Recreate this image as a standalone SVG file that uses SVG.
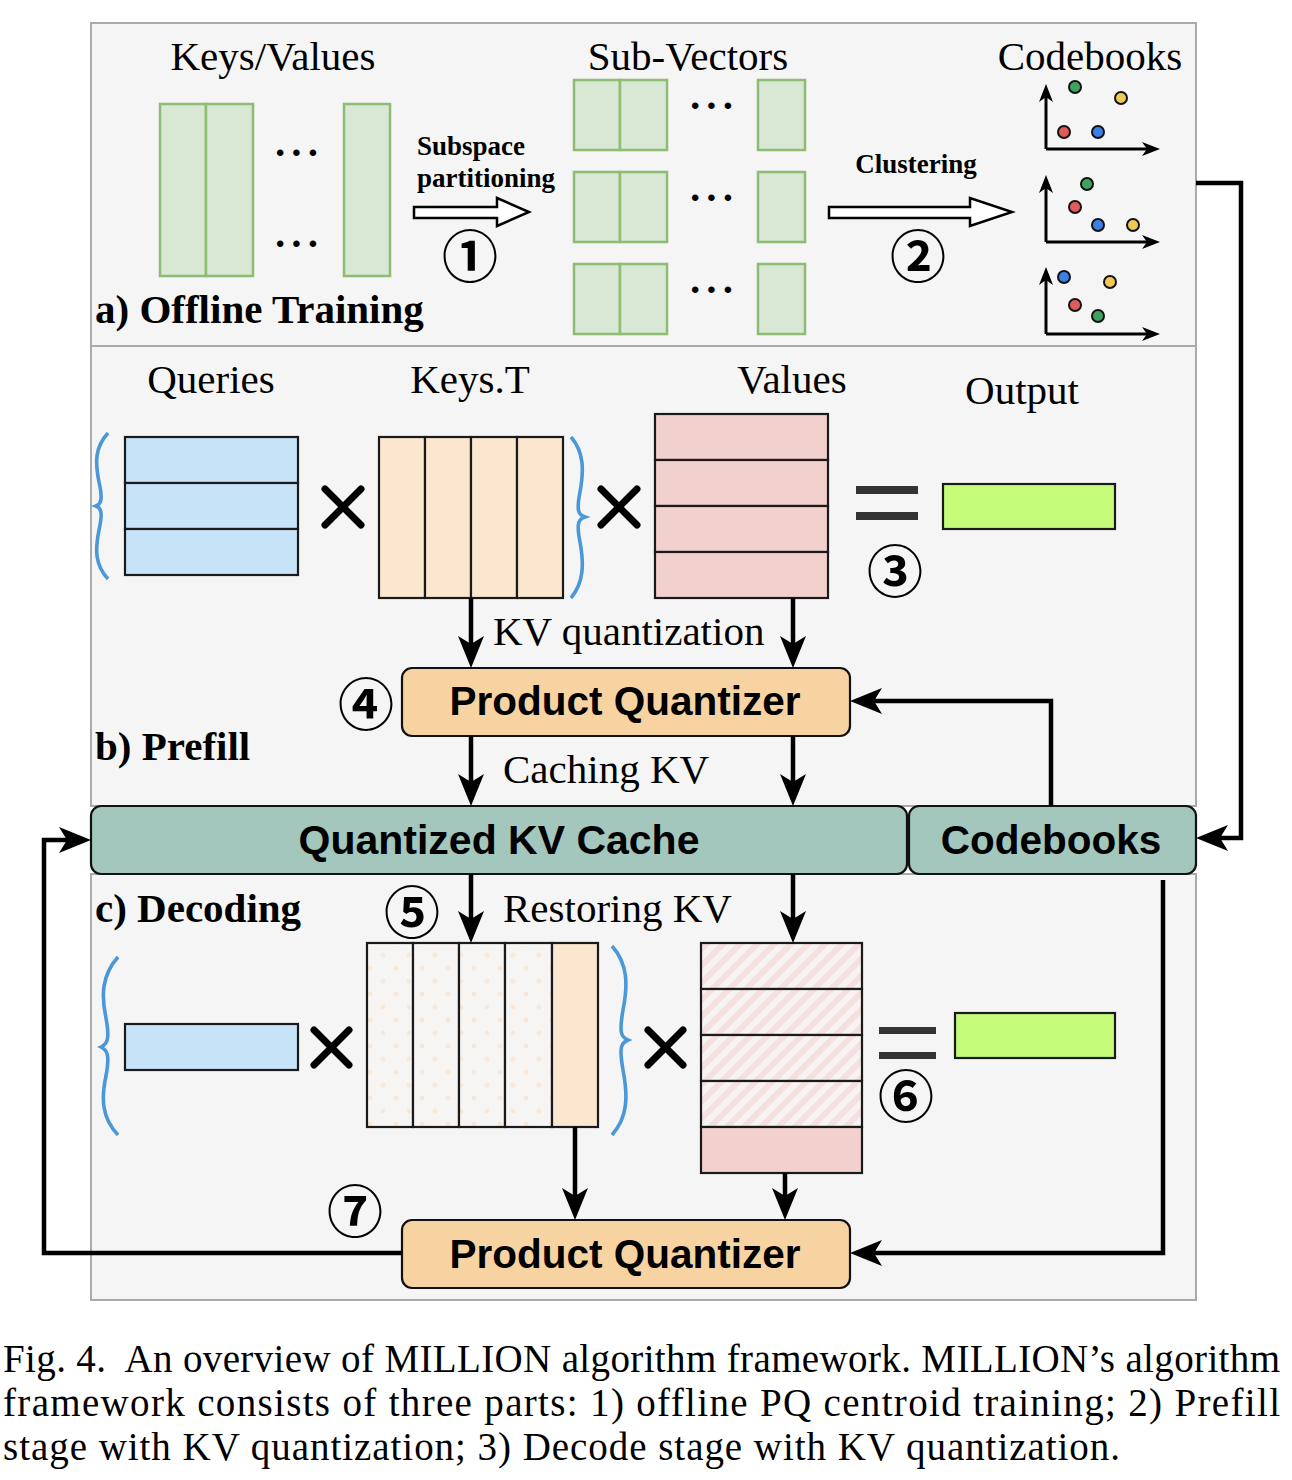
<svg xmlns="http://www.w3.org/2000/svg" width="1292" height="1480" viewBox="0 0 1292 1480">
<style>
.panel{fill:#f5f5f5;stroke:#aaaaaa;stroke-width:2}
.grn{fill:#d9e8d5;stroke:#8dbd72;stroke-width:2.5}
.cell{stroke:#1a1a1a;stroke-width:2.2}
.q{fill:#c7e3f8}
.k{fill:#fbe7d0}
.v{fill:#f2d0ce}
.out{fill:#c4fc7a;stroke:#1a1a1a;stroke-width:2.2}
.pq{fill:#f8d3a2;stroke:#111;stroke-width:2.2}
.cache{fill:#a3c6bd;stroke:#111;stroke-width:2.2}
.ser{font-family:"Liberation Serif","Times New Roman",serif;fill:#000}
.sb{font-family:"Liberation Serif","Times New Roman",serif;font-weight:bold;fill:#000}
.sans{font-family:"Liberation Sans",Arial,sans-serif;font-weight:bold;fill:#000}
.num{font-family:"Noto Sans CJK JP","DejaVu Sans",sans-serif;font-weight:bold;fill:#000}
.ell{font-family:"Liberation Serif","Times New Roman",serif;font-weight:bold;fill:#000;letter-spacing:3px}
.conn{fill:none;stroke:#000;stroke-width:4.5}
.ax{fill:none;stroke:#000;stroke-width:3}
.brace{fill:none;stroke:#4a98d8;stroke-width:3.6}
.times{stroke:#000;stroke-width:7;stroke-linecap:round}
.eq{fill:#333}
.dot{stroke:#111;stroke-width:2}
.hollow{fill:#fff;stroke:#000;stroke-width:2.5}
</style>
<defs>
<marker id="ah" markerUnits="userSpaceOnUse" markerWidth="32" markerHeight="26" viewBox="0 0 32 26" refX="20" refY="13" orient="auto">
<path d="M0,0 L32,13 L0,26 L8,13 Z" fill="#000"/>
</marker>
<marker id="sh" markerUnits="userSpaceOnUse" markerWidth="18" markerHeight="14" viewBox="0 0 18 14" refX="10" refY="7" orient="auto">
<path d="M0,0 L18,7 L0,14 L5,7 Z" fill="#000"/>
</marker>
<pattern id="dots" width="26" height="26" patternUnits="userSpaceOnUse">
<rect width="26" height="26" fill="#f7f5f3"/>
<circle cx="6" cy="6" r="2.5" fill="#f8e8da"/>
<circle cx="19" cy="19" r="2.5" fill="#f8e8da"/>
</pattern>
<pattern id="hatch" width="12" height="12" patternUnits="userSpaceOnUse" patternTransform="rotate(45)">
<rect width="12" height="12" fill="#f7f3f3"/>
<rect width="6" height="12" fill="#f5e0e0"/>
</pattern>
</defs>

<!-- panels -->
<g id="panel-a"><rect class="panel" x="91" y="23" width="1105" height="323"/></g>
<g id="panel-b"><rect class="panel" x="91" y="346" width="1105" height="460"/></g>
<g id="panel-c"><rect class="panel" x="91" y="874" width="1105" height="426"/></g>

<!-- a) offline training -->
<g id="keys-values">
<text class="ser" x="273" y="70" font-size="41" text-anchor="middle">Keys/Values</text>
<rect class="grn" x="160" y="104" width="46" height="172"/>
<rect class="grn" x="206" y="104" width="47" height="172"/>
<rect class="grn" x="344" y="104" width="46" height="172"/>
<text class="ell" x="298" y="166" font-size="40" text-anchor="middle">···</text>
<text class="ell" x="298" y="257" font-size="40" text-anchor="middle">···</text>
</g>
<g id="subspace-step">
<text class="sb" x="417" y="155" font-size="27">Subspace</text>
<text class="sb" x="417" y="187" font-size="27">partitioning</text>
<polygon class="hollow" points="414,207 497,207 497,198 529,212 497,226 497,218 414,218"/>
<text class="num" x="470" y="252" font-size="56" text-anchor="middle" dominant-baseline="central">①</text>
</g>
<g id="sub-vectors">
<text class="ser" x="688" y="70" font-size="41" text-anchor="middle">Sub-Vectors</text>
<rect class="grn" x="574" y="80" width="46" height="70"/><rect class="grn" x="620" y="80" width="47" height="70"/><rect class="grn" x="758" y="80" width="47" height="70"/>
<rect class="grn" x="574" y="172" width="46" height="70"/><rect class="grn" x="620" y="172" width="47" height="70"/><rect class="grn" x="758" y="172" width="47" height="70"/>
<rect class="grn" x="574" y="264" width="46" height="70"/><rect class="grn" x="620" y="264" width="47" height="70"/><rect class="grn" x="758" y="264" width="47" height="70"/>
<text class="ell" x="713" y="119" font-size="40" text-anchor="middle">···</text>
<text class="ell" x="713" y="211" font-size="40" text-anchor="middle">···</text>
<text class="ell" x="713" y="303" font-size="40" text-anchor="middle">···</text>
</g>
<g id="clustering-step">
<text class="sb" x="916" y="173" font-size="27" text-anchor="middle">Clustering</text>
<polygon class="hollow" points="829,207 970,207 970,198 1012,212 970,226 970,218 829,218"/>
<text class="num" x="918" y="252" font-size="56" text-anchor="middle" dominant-baseline="central">②</text>
</g>
<g id="codebooks-plots">
<text class="ser" x="1090" y="70" font-size="41" text-anchor="middle">Codebooks</text>
<path class="ax" d="M1046,149 V92" marker-end="url(#sh)"/><path class="ax" d="M1046,149 H1152" marker-end="url(#sh)"/>
<circle class="dot" cx="1075" cy="87" r="6" fill="#3fa35f"/><circle class="dot" cx="1121" cy="98" r="6" fill="#f0c955"/>
<circle class="dot" cx="1064" cy="132" r="6" fill="#e05c5c"/><circle class="dot" cx="1098" cy="132" r="6" fill="#3d7fe6"/>
<path class="ax" d="M1046,242 V183" marker-end="url(#sh)"/><path class="ax" d="M1046,242 H1152" marker-end="url(#sh)"/>
<circle class="dot" cx="1087" cy="184" r="6" fill="#3fa35f"/><circle class="dot" cx="1075" cy="207" r="6" fill="#e05c5c"/>
<circle class="dot" cx="1098" cy="225" r="6" fill="#3d7fe6"/><circle class="dot" cx="1133" cy="225" r="6" fill="#f0c955"/>
<path class="ax" d="M1046,334 V275" marker-end="url(#sh)"/><path class="ax" d="M1046,334 H1152" marker-end="url(#sh)"/>
<circle class="dot" cx="1064" cy="277" r="6" fill="#3d7fe6"/><circle class="dot" cx="1110" cy="282" r="6" fill="#f0c955"/>
<circle class="dot" cx="1075" cy="305" r="6" fill="#e05c5c"/><circle class="dot" cx="1098" cy="316" r="6" fill="#3fa35f"/>
</g>
<text class="sb" x="95" y="323" font-size="41">a) Offline Training</text>

<!-- b) prefill -->
<g id="queries">
<text class="ser" x="211" y="393" font-size="41" text-anchor="middle">Queries</text>
<path class="brace" d="M108,433 C95,447 95,462 99,482 C103,500 101,504 96,506 C101,508 103,512 99,530 C95,550 95,565 108,579"/>
<rect class="cell q" x="125" y="437" width="173" height="46"/>
<rect class="cell q" x="125" y="483" width="173" height="46"/>
<rect class="cell q" x="125" y="529" width="173" height="46"/>
</g>
<g id="times1"><line class="times" x1="325" y1="489" x2="361" y2="525"/><line class="times" x1="361" y1="489" x2="325" y2="525"/></g>
<g id="keys-t">
<text class="ser" x="470" y="393" font-size="41" text-anchor="middle">Keys.T</text>
<rect class="cell k" x="379" y="437" width="46" height="161"/>
<rect class="cell k" x="425" y="437" width="46" height="161"/>
<rect class="cell k" x="471" y="437" width="46" height="161"/>
<rect class="cell k" x="517" y="437" width="46" height="161"/>
<path class="brace" d="M571,437 C584,452 584,470 580,492 C576,512 579,515 585,517 C579,519 576,522 580,542 C584,564 584,582 571,598"/>
</g>
<g id="times2"><line class="times" x1="601" y1="489" x2="637" y2="525"/><line class="times" x1="637" y1="489" x2="601" y2="525"/></g>
<g id="values">
<text class="ser" x="792" y="393" font-size="41" text-anchor="middle">Values</text>
<rect class="cell v" x="655" y="414" width="173" height="46"/>
<rect class="cell v" x="655" y="460" width="173" height="46"/>
<rect class="cell v" x="655" y="506" width="173" height="46"/>
<rect class="cell v" x="655" y="552" width="173" height="46"/>
</g>
<g id="equals1">
<rect class="eq" x="856" y="486" width="62" height="8"/><rect class="eq" x="856" y="512" width="62" height="8"/>
<text class="num" x="895" y="567" font-size="56" text-anchor="middle" dominant-baseline="central">③</text>
</g>
<g id="output1">
<text class="ser" x="1022" y="404" font-size="41" text-anchor="middle">Output</text>
<rect class="out" x="943" y="484" width="172" height="45"/>
</g>
<g id="pq1">
<rect class="pq" x="402" y="668" width="448" height="68" rx="10"/>
<text class="sans" x="625" y="715" font-size="40.5" text-anchor="middle">Product Quantizer</text>
<text class="num" x="366" y="700" font-size="56" text-anchor="middle" dominant-baseline="central">④</text>
</g>
<text class="sb" x="95" y="760" font-size="41">b) Prefill</text>

<!-- cache bar -->
<g id="kv-cache">
<rect class="cache" x="91" y="806" width="816" height="68" rx="10"/>
<text class="sans" x="499" y="854" font-size="41" text-anchor="middle">Quantized KV Cache</text>
</g>
<g id="codebooks">
<rect class="cache" x="909" y="806" width="287" height="68" rx="10"/>
<text class="sans" x="1051" y="854" font-size="40.5" text-anchor="middle">Codebooks</text>
</g>

<!-- c) decoding -->
<text class="sb" x="95" y="922" font-size="41">c) Decoding</text>
<text class="num" x="412" y="908" font-size="56" text-anchor="middle" dominant-baseline="central">⑤</text>
<g id="query-dec">
<path class="brace" d="M118,957 C102,975 101,995 106,1018 C110,1040 107,1044 101,1047 C107,1050 110,1054 106,1076 C101,1099 102,1118 118,1135"/>
<rect class="cell q" x="125" y="1024" width="173" height="46"/>
</g>
<g id="times3"><line class="times" x1="314" y1="1030" x2="349" y2="1065"/><line class="times" x1="349" y1="1030" x2="314" y2="1065"/></g>
<g id="keys-dec">
<rect class="cell" fill="url(#dots)" x="367" y="943" width="46" height="184"/>
<rect class="cell" fill="url(#dots)" x="413" y="943" width="46" height="184"/>
<rect class="cell" fill="url(#dots)" x="459" y="943" width="46" height="184"/>
<rect class="cell" fill="url(#dots)" x="505" y="943" width="47" height="184"/>
<rect class="cell k" x="552" y="943" width="46" height="184"/>
<path class="brace" d="M612,946 C628,964 628,985 623,1010 C619,1033 621,1037 628,1040 C621,1043 619,1047 623,1070 C628,1096 628,1117 612,1135"/>
</g>
<g id="times4"><line class="times" x1="648" y1="1030" x2="683" y2="1065"/><line class="times" x1="683" y1="1030" x2="648" y2="1065"/></g>
<g id="values-dec">
<rect class="cell" fill="url(#hatch)" x="701" y="943" width="161" height="46"/>
<rect class="cell" fill="url(#hatch)" x="701" y="989" width="161" height="46"/>
<rect class="cell" fill="url(#hatch)" x="701" y="1035" width="161" height="46"/>
<rect class="cell" fill="url(#hatch)" x="701" y="1081" width="161" height="46"/>
<rect class="cell v" x="701" y="1127" width="161" height="46"/>
</g>
<g id="equals2">
<rect class="eq" x="879" y="1027" width="57" height="7"/><rect class="eq" x="879" y="1052" width="57" height="7"/>
<text class="num" x="906" y="1092" font-size="56" text-anchor="middle" dominant-baseline="central">⑥</text>
</g>
<g id="output2"><rect class="out" x="955" y="1013" width="160" height="45"/></g>
<g id="pq2">
<rect class="pq" x="402" y="1220" width="448" height="68" rx="10"/>
<text class="sans" x="625" y="1268" font-size="40.5" text-anchor="middle">Product Quantizer</text>
<text class="num" x="355" y="1207" font-size="56" text-anchor="middle" dominant-baseline="central">⑦</text>
</g>

<!-- connectors -->
<g id="connectors">
<path class="conn" d="M1196,183 H1241 V838 H1208" marker-end="url(#ah)"/>
<path class="conn" d="M471,598 V656" marker-end="url(#ah)"/>
<path class="conn" d="M793,598 V656" marker-end="url(#ah)"/>
<path class="conn" d="M1051,806 V701 H862" marker-end="url(#ah)"/>
<path class="conn" d="M471,736 V794" marker-end="url(#ah)"/>
<path class="conn" d="M793,736 V794" marker-end="url(#ah)"/>
<path class="conn" d="M471,874 V931" marker-end="url(#ah)"/>
<path class="conn" d="M793,874 V931" marker-end="url(#ah)"/>
<path class="conn" d="M575,1127 V1208" marker-end="url(#ah)"/>
<path class="conn" d="M785,1173 V1208" marker-end="url(#ah)"/>
<path class="conn" d="M1163,880 V1253 H862" marker-end="url(#ah)"/>
<path class="conn" d="M402,1253 H44 V840 H79" marker-end="url(#ah)"/>
</g>
<g id="connector-labels">
<text class="ser" x="493" y="645" font-size="41">KV quantization</text>
<text class="ser" x="503" y="783" font-size="41">Caching KV</text>
<text class="ser" x="503" y="922" font-size="41">Restoring KV</text>
</g>

<!-- caption -->
<g id="caption">
<text class="ser" x="3" y="1372" font-size="39" textLength="1277" lengthAdjust="spacing" xml:space="preserve">Fig. 4.  An overview of MILLION algorithm framework. MILLION’s algorithm</text>
<text class="ser" x="3" y="1416" font-size="39" textLength="1277" lengthAdjust="spacing">framework consists of three parts: 1) offline PQ centroid training; 2) Prefill</text>
<text class="ser" x="3" y="1460" font-size="39" textLength="1117" lengthAdjust="spacing">stage with KV quantization; 3) Decode stage with KV quantization.</text>
</g>
</svg>
